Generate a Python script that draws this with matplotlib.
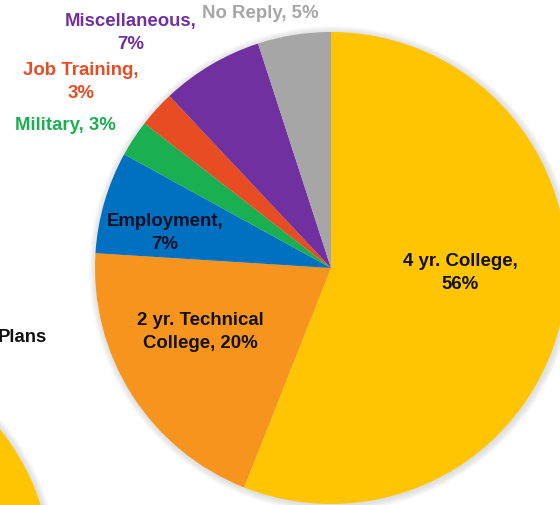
import matplotlib
matplotlib.use("Agg")
import matplotlib.pyplot as plt
from matplotlib.patches import Circle

plt.rcParams['font.family'] = ['Liberation Sans', 'DejaVu Sans']

categories = ["4 yr. College", "2 yr. Technical College", "Employment", "Military",
              "Job Training", "Miscellaneous", "No Reply"]
values = [56, 20, 7, 2.5, 2.5, 7, 5]
pct_labels = ["56%", "20%", "7%", "3%", "3%", "7%", "5%"]
colors = ["#FFC502", "#F7941D", "#0070C0", "#1AAF50", "#E84C22", "#7030A0", "#A6A6A6"]

W, H = 560, 506
fig = plt.figure(figsize=(W / 100, H / 100), dpi=100)
ax = fig.add_axes([0, 0, 1, 1])

cx, cy, r = 331, H - 269, 236

# soft shadow halo
for i in range(7, 0, -1):
    ax.add_patch(Circle((cx + 1, cy - 1), r + i, color="#808080", alpha=0.035, lw=0, zorder=0))
# partially visible second pie at lower left
ocx, ocy = -184, H - 578
for i in range(7, 0, -1):
    ax.add_patch(Circle((ocx + 1, ocy - 1), r + i, color="#808080", alpha=0.035, lw=0, zorder=0))
ax.add_patch(Circle((ocx, ocy), r, color=colors[0], lw=0, zorder=1))

ax.pie(values, colors=colors, startangle=90, counterclock=False,
       center=(cx, cy), radius=r, frame=True,
       wedgeprops=dict(linewidth=0, zorder=2))

fs = 13.4
def lab(txt, px, py, color, ha="center"):
    ax.text(px, H - py, txt, ha=ha, va="center", fontsize=fs, fontweight="bold",
            color=color, linespacing=1.42, zorder=5)

lab(f"{categories[0]},\n{pct_labels[0]}", 460, 273, "#111111")
lab("2 yr. Technical\nCollege, " + pct_labels[1], 200, 332, "#111111")
lab(f"{categories[2]},\n{pct_labels[2]}", 165, 233, "#101025")
lab(f"{categories[3]}, {pct_labels[3]}", 65, 126, "#1AAF50")
lab(f"{categories[4]},\n{pct_labels[4]}", 81, 82, "#E84C22")
lab(f"{categories[5]},\n{pct_labels[5]}", 131, 33, "#7030A0")
lab(f"{categories[6]}, {pct_labels[6]}", 260, 13, "#A6A6A6")
lab("Plans", 47, 338, "#111111", ha="right")

ax.set_xlim(0, W)
ax.set_ylim(0, H)
ax.set_aspect("auto")
ax.axis("off")

fig.savefig("out.png", dpi=100)
